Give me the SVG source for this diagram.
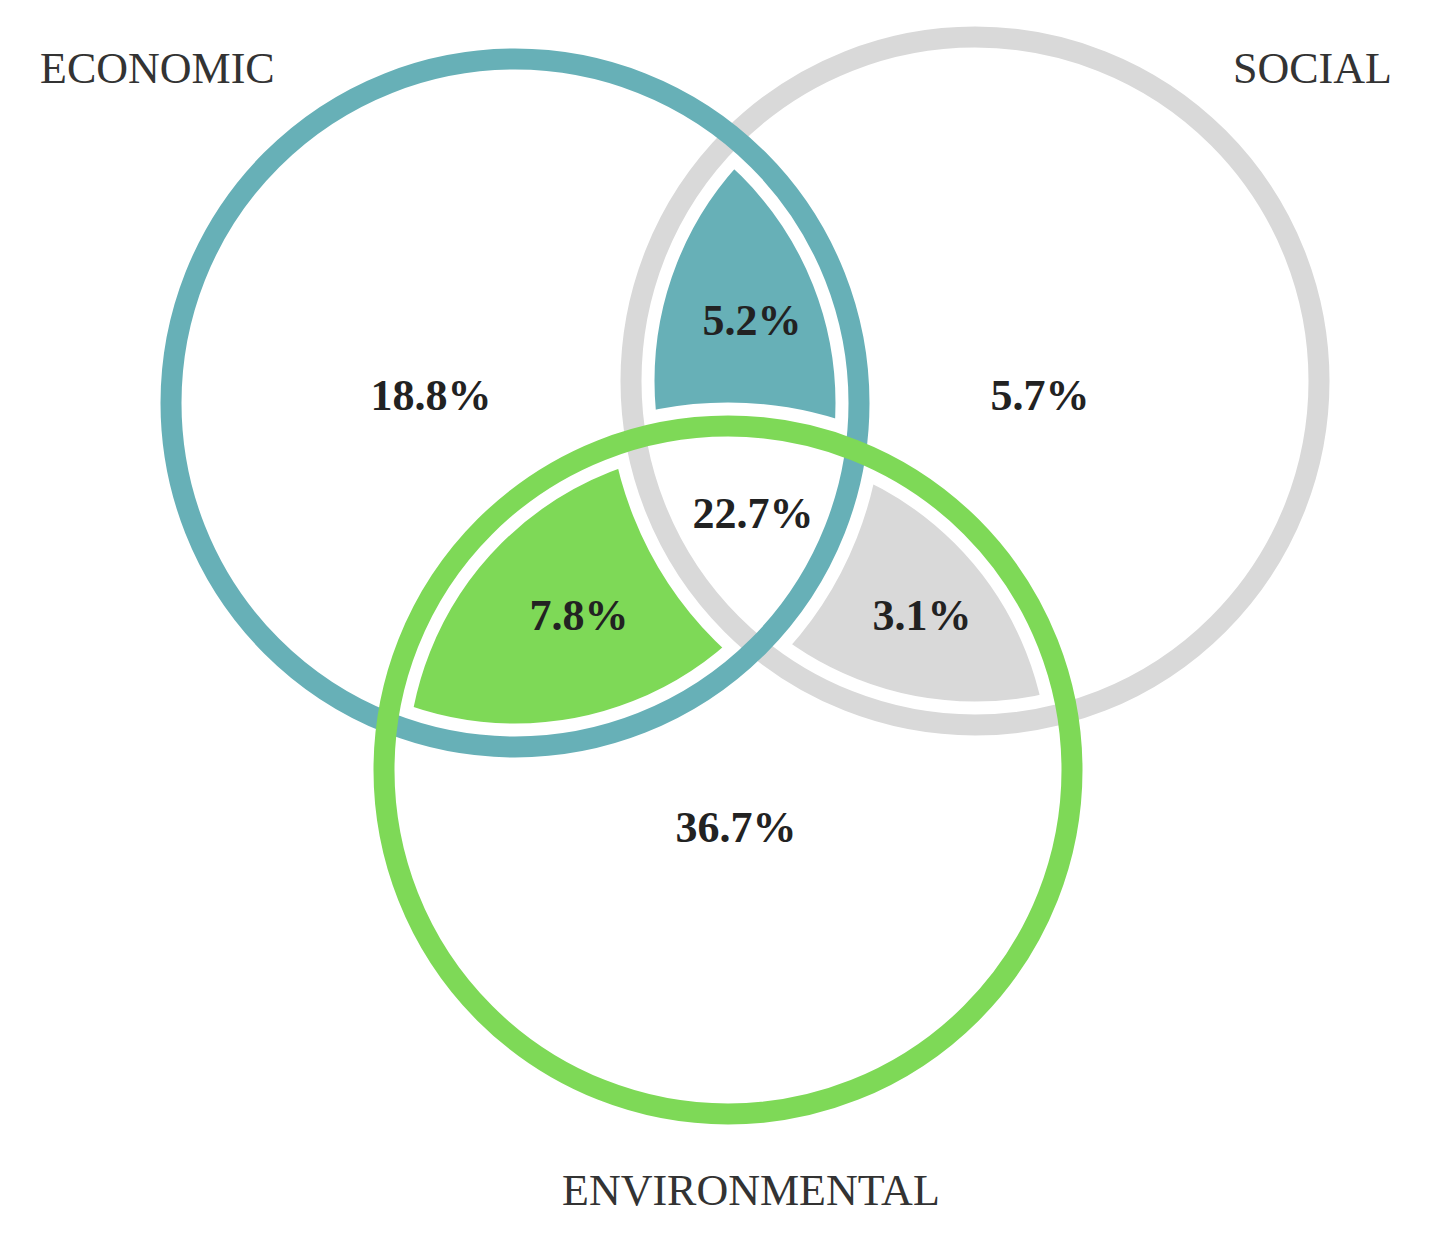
<svg xmlns="http://www.w3.org/2000/svg" width="1434" height="1246" viewBox="0 0 1434 1246">
<style>
.lbl{font-family:"Liberation Serif","Times New Roman",serif;font-size:44px;fill:#333;}
.num{font-family:"Liberation Serif","Times New Roman",serif;font-size:44px;font-weight:bold;fill:#222;text-anchor:middle;}
.ring{fill:none;stroke-width:21;}
.gap{fill:none;stroke:#fff;stroke-width:47;}
</style>
<defs>
<clipPath id="cE"><circle cx="515" cy="403" r="344"/></clipPath>
<clipPath id="cS"><circle cx="975" cy="381" r="344"/></clipPath>
<clipPath id="cG"><circle cx="728" cy="770" r="344"/></clipPath>
</defs>
<rect width="1434" height="1246" fill="#fff"/>
<g id="fills">
<circle cx="975" cy="381" r="344" fill="#67b0b7" clip-path="url(#cE)"/>
<circle cx="515" cy="403" r="344" fill="#7ed957" clip-path="url(#cG)"/>
<circle cx="975" cy="381" r="344" fill="#d9d9d9" clip-path="url(#cG)"/>
<g clip-path="url(#cE)"><circle cx="975" cy="381" r="344" fill="#fff" clip-path="url(#cG)"/></g>
</g>
<g id="gaps">
<circle class="gap" cx="975" cy="381" r="344"/>
<circle class="gap" cx="515" cy="403" r="344"/>
<circle class="gap" cx="728" cy="770" r="344"/>
</g>
<g id="social"><circle class="ring" stroke="#d9d9d9" cx="975" cy="381" r="344"/><text class="lbl" x="1233" y="83">SOCIAL</text></g>
<g id="economic"><circle class="ring" stroke="#67b0b7" cx="515" cy="403" r="344"/><text class="lbl" x="40" y="83">ECONOMIC</text></g>
<g id="environmental"><circle class="ring" stroke="#7ed957" cx="728" cy="770" r="344"/><text class="lbl" x="562" y="1205">ENVIRONMENTAL</text></g>
<g id="values">
<text class="num" x="431" y="410">18.8%</text>
<text class="num" x="752" y="335">5.2%</text>
<text class="num" x="1040" y="410">5.7%</text>
<text class="num" x="753" y="528">22.7%</text>
<text class="num" x="579" y="630">7.8%</text>
<text class="num" x="922" y="630">3.1%</text>
<text class="num" x="736" y="842">36.7%</text>
</g>
<g id="connectors"/>
</svg>
